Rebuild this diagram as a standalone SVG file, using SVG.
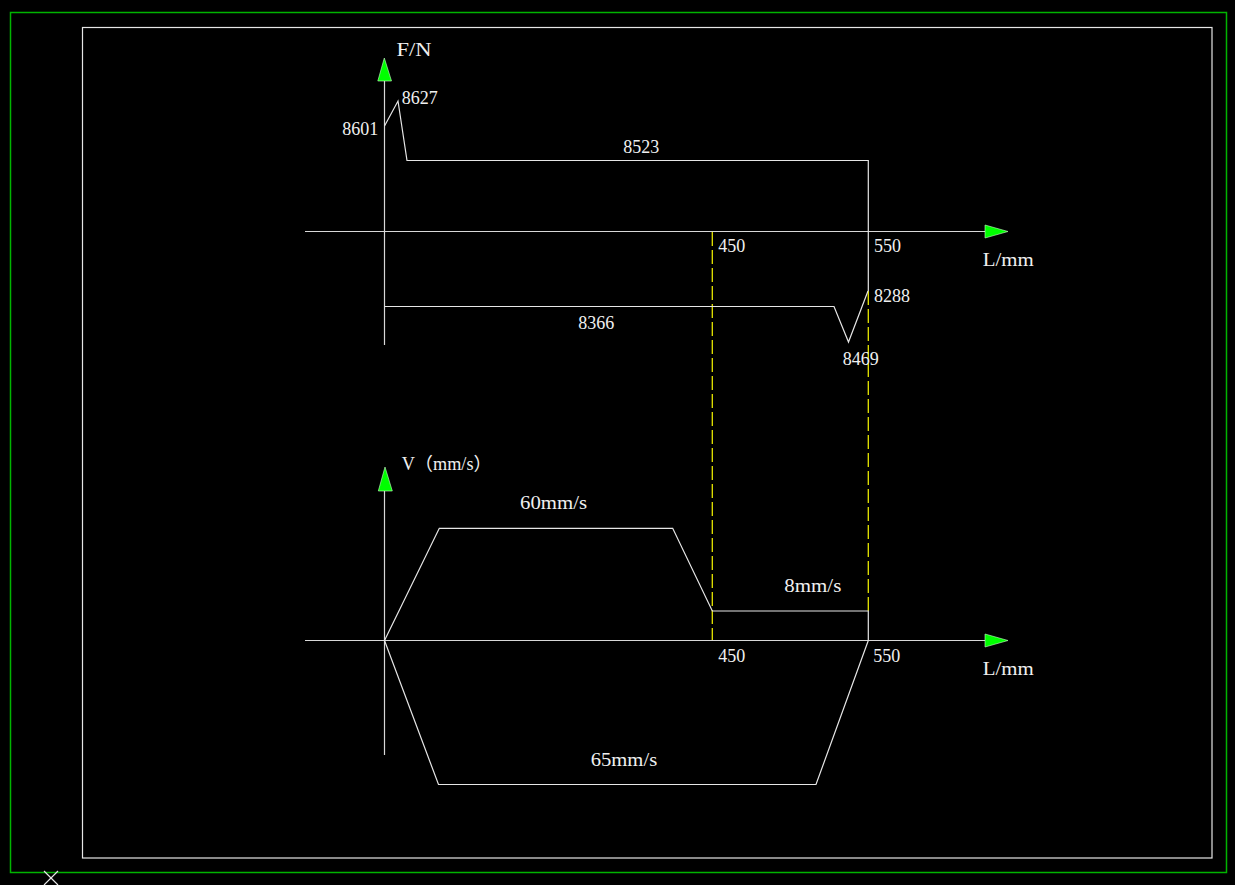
<svg xmlns="http://www.w3.org/2000/svg" width="1235" height="885" viewBox="0 0 1235 885">
<style>
.ln{fill:none;stroke:#e6e6e6;stroke-width:1.2}
.ax{fill:none;stroke:#d8d8d8;stroke-width:1.2}
.dash{fill:none;stroke:#e6e600;stroke-width:1.3;stroke-dasharray:14 4}
.arr{fill:#00ff00;stroke:#c8ffc8;stroke-width:0.6}
text{font-family:"Liberation Serif","Noto Sans CJK SC",serif;font-size:18px;fill:#f0f0f0}
</style>
<rect width="1235" height="885" fill="#000"/>
<g id="frame">
<rect x="10.5" y="12.5" width="1216" height="860" fill="none" stroke="#00b400" stroke-width="1.5"/>
<rect x="82.5" y="27.5" width="1129.5" height="830.5" fill="none" stroke="#e6e6e6" stroke-width="1.2"/>
<path d="M44 871 L58 885 M58 871 L44 885" stroke="#e6e6e6" stroke-width="1.2"/>
</g>
<g id="connectors">
<path class="dash" d="M712.3 232 V641"/>
<path class="dash" d="M868.3 291 V611"/>
<!-- force axes -->
<path class="ax" d="M384.5 80 V345"/>
<path class="ax" d="M305 231.5 H986"/>
<!-- velocity axes -->
<path class="ax" d="M384.5 490 V755"/>
<path class="ax" d="M305 640.5 H986"/>
<!-- force curves -->
<path class="ln" d="M384.5 126 L398 101 L407 160.5 H868.3 V291"/>
<path class="ln" d="M384.5 306.5 H834 L848.5 342 L868 291"/>
<!-- velocity curves -->
<path class="ln" d="M384.5 640.5 L439.3 528.3 H672.7 L712.3 611 H868.3 V640.5"/>
<path class="ln" d="M384.5 640.5 L438.5 784.5 H816 L868.3 640.5"/>
</g>
<g id="arrows">
<polygon class="arr" points="384.3,58 377.8,81 391.5,81"/>
<polygon class="arr" points="1008,231.5 985,225 985,238"/>
<polygon class="arr" points="385,467 378.3,491 392.3,491"/>
<polygon class="arr" points="1008,640.5 985,634 985,647"/>
</g>
<g id="labels">
<text x="396.5" y="56" textLength="35" lengthAdjust="spacingAndGlyphs">F/N</text>
<text x="401.7" y="104">8627</text>
<text x="342.3" y="135">8601</text>
<text x="623.3" y="152.7">8523</text>
<text x="718.3" y="252.3">450</text>
<text x="874" y="251.7">550</text>
<text x="982.7" y="266" textLength="51" lengthAdjust="spacingAndGlyphs">L/mm</text>
<text x="874" y="301.7">8288</text>
<text x="578.3" y="329.3">8366</text>
<text x="842.7" y="365">8469</text>
<text x="401.7" y="470" textLength="90" lengthAdjust="spacingAndGlyphs">V（mm/s）</text>
<text x="520" y="509.3" textLength="67" lengthAdjust="spacingAndGlyphs">60mm/s</text>
<text x="784.3" y="591.7" textLength="57" lengthAdjust="spacingAndGlyphs">8mm/s</text>
<text x="718.3" y="661.7">450</text>
<text x="873.3" y="661.7">550</text>
<text x="982.7" y="675" textLength="51" lengthAdjust="spacingAndGlyphs">L/mm</text>
<text x="590.7" y="766" textLength="66.5" lengthAdjust="spacingAndGlyphs">65mm/s</text>
</g>
</svg>
